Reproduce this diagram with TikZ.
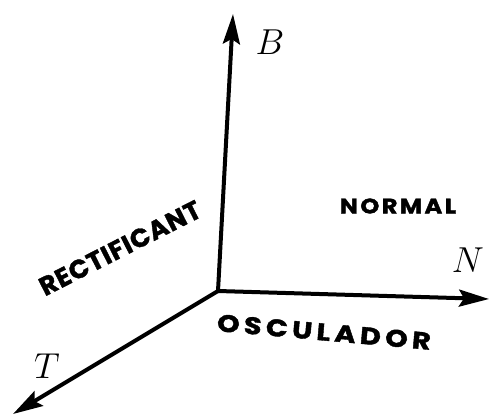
\documentclass[tikz,border=0pt]{standalone}
\usepackage{fontspec}
\newfontfamily\hand{Poppins}[UprightFont=* Bold,FakeBold=1.5]
\usetikzlibrary{arrows.meta}
\begin{document}
\begin{tikzpicture}[x=1pt,y=-1pt,
  axis/.style={line width=4pt,-{Stealth[length=30pt,width=17pt,inset=5pt]}},
  axlabel/.style={font=\fontsize{24.88}{26}\selectfont,scale=1.45},
  handtxt/.style={inner sep=0pt}]
\useasboundingbox (0,0) rectangle (490,418);
\coordinate (O) at (218,291);
\coordinate (Bt) at (233,14);
\coordinate (Nt) at (489,299);
\coordinate (Tt) at (13,414);
\draw[axis] (O) -- (Bt);
\draw[axis] (O) -- (Nt);
\draw[axis] (O) -- (Tt);
\node[axlabel] (B) at (270,42) {$B$};
\node[axlabel] (N) at (468,260) {$N$};
\node[axlabel] (T) at (47,366) {$T$};
\node[handtxt,rotate=27,font=\hand\fontsize{26}{26}\selectfont\addfontfeatures{LetterSpace=3}] (rect) at (120,248) {RECTIFICANT};
\node[handtxt,xscale=1.15,font=\hand\fontsize{21}{21}\selectfont\addfontfeatures{LetterSpace=10}] (norm) at (398,206) {NORMAL};
\node[handtxt,rotate=-5,xscale=1.2,font=\hand\fontsize{24}{24}\selectfont\addfontfeatures{LetterSpace=15}] (osc) at (324,332) {OSCULADOR};
\end{tikzpicture}
\end{document}
